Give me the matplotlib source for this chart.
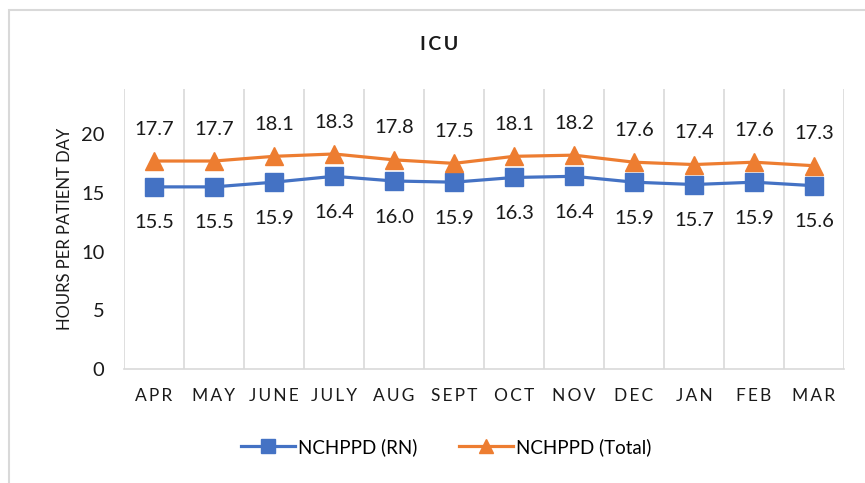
import matplotlib
matplotlib.use('Agg')
import matplotlib.pyplot as plt
from matplotlib.patches import Rectangle

plt.rcParams['font.family'] = ['Lato', 'DejaVu Sans']

months = ['APR', 'MAY', 'JUNE', 'JULY', 'AUG', 'SEPT', 'OCT', 'NOV', 'DEC', 'JAN', 'FEB', 'MAR']
rn = [15.5, 15.5, 15.9, 16.4, 16.0, 15.9, 16.3, 16.4, 15.9, 15.7, 15.9, 15.6]
total = [17.7, 17.7, 18.1, 18.3, 17.8, 17.5, 18.1, 18.2, 17.6, 17.4, 17.6, 17.3]

BLUE = '#4472C4'
ORANGE = '#ED7D31'
W, H = 865, 483


def spaced(s):
    # mimic Excel's letter spacing
    return '\u2009'.join(s)


fig = plt.figure(figsize=(W / 100, H / 100), dpi=100)
ax = fig.add_axes([124 / W, 1 - 369 / H, 720 / W, 280 / H])

# outer chart frame
fig.patches.append(Rectangle((9 / W, -0.1), 1.2, 1 - 10 / H + 0.1, transform=fig.transFigure,
                             fill=False, edgecolor='#D9D9D9', linewidth=1.5))

x = list(range(len(months)))
ax.plot(x, rn, '-s', color=BLUE, lw=2.3, markersize=13, label='NCHPPD (RN)', zorder=3)
ax.plot(x, total, '-^', color=ORANGE, lw=2.3, markersize=13, label='NCHPPD (Total)', zorder=3)

for i in x:
    ax.annotate(f'{total[i]:.1f}', (i, total[i]), textcoords='offset points', xytext=(0, 23),
                ha='center', va='center', fontsize=14.5, color='#1a1a1a')
    ax.annotate(f'{rn[i]:.1f}', (i, rn[i]), textcoords='offset points', xytext=(0, -26),
                ha='center', va='center', fontsize=14.5, color='#1a1a1a')

ax.set_xlim(-0.5, len(months) - 0.5)
ax.set_ylim(0, 23.83)
ax.set_yticks([0, 5, 10, 15, 20])
ax.set_xticks(x)
ax.set_xticklabels([spaced(m) for m in months], fontsize=12.5, color='#1a1a1a')
ax.tick_params(axis='y', labelsize=14.5, length=0, pad=14, labelcolor='#1a1a1a')
ax.tick_params(axis='x', length=0, pad=14)

# vertical gridlines at category boundaries
for b in range(len(months) + 1):
    ax.axvline(b - 0.5, color='#D9D9D9', lw=1.2, zorder=0)

for s in ['top', 'right', 'left']:
    ax.spines[s].set_visible(False)
ax.spines['bottom'].set_color('#D9D9D9')
ax.spines['bottom'].set_linewidth(1.2)

ax.set_ylabel('HOURS PER PATIENT DAY', fontsize=12, labelpad=6, color='#1a1a1a')
fig.text(439 / W, 1 - 45 / H, spaced('ICU'), ha='center', va='center', fontsize=14,
         fontweight='bold', color='#1a1a1a')

fig.legend(loc='center', bbox_to_anchor=(446 / W, 1 - 447 / H), ncol=2, frameon=False,
           fontsize=13.5, handlelength=2.9, columnspacing=2.2, handletextpad=0.15,
           markerscale=0.75)

fig.savefig('out.png', dpi=100)
